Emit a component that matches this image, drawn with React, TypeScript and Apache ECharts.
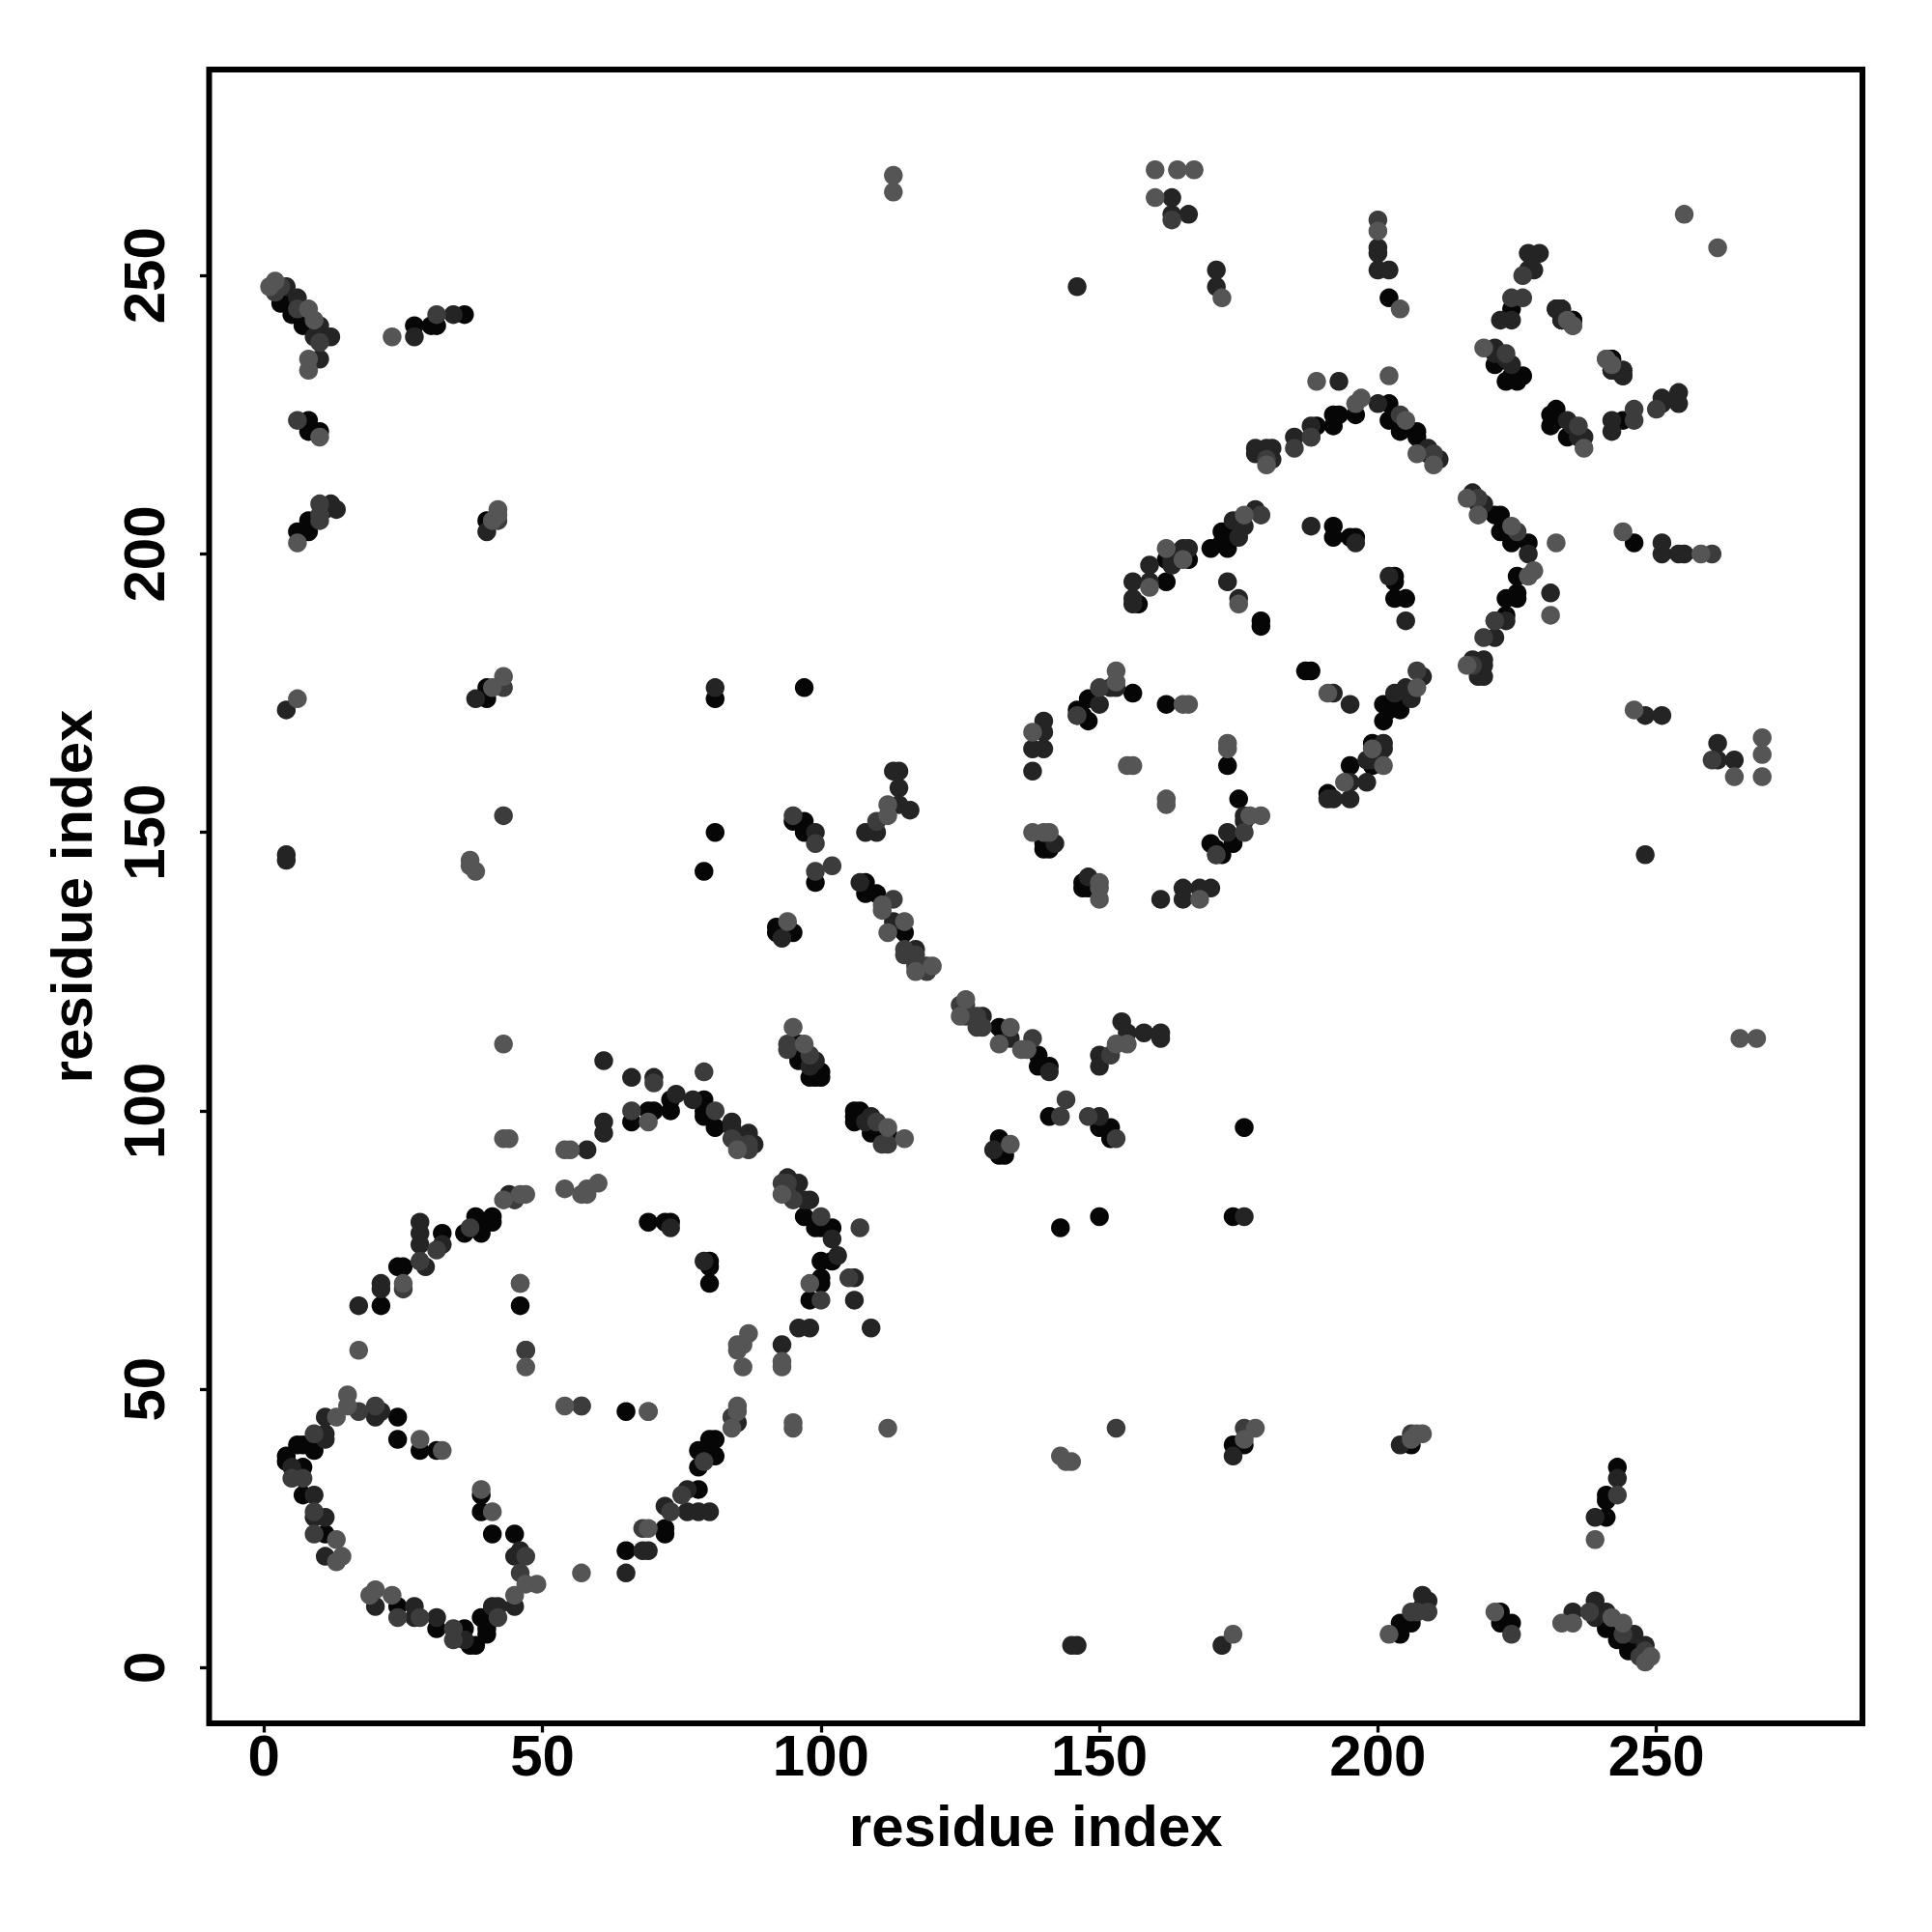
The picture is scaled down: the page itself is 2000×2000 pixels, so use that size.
import React, { useEffect, useRef } from "react";
import * as echarts from "echarts";

// Residue contacts (i < j); the map is symmetric.
const contactsBlack: number[][] = [
  [69,80],[72,80],[73,80],[41,81],[38,81],[36,78],[39,78],[38,80],[41,80],[32,78],[25,72],[24,72],[21,65],[46,65],[24,45],[24,41],[28,39],[31,39],[6,40],[7,40],[9,39],[4,38],[4,37],[7,36],[7,31],[11,24],
  [40,176],[40,174],[81,174],[81,150],[79,143],[69,100],[70,100],[73,100],[73,102],[79,102],[79,100],[79,99],[81,97],[66,98],
  [3,245],[5,245],[3,246],[5,243],[7,241],[27,241],[30,241],[31,241],[36,243],[8,224],[8,222],[10,222],[8,206],[6,204],[8,204],[40,206],
  [97,176],[156,175],[148,174],[146,172],[146,171],[148,170],[147,171],[162,173],[95,152],[97,152],[97,150],[99,141],[140,148],[140,147],[141,147],[108,141],[108,139],[110,139],[115,132],[92,133],[92,132],[95,132],
  [96,112],[96,109],[98,106],[99,106],[100,106],[100,107],
  [172,204],[170,201],[172,202],[173,201],[174,203],[166,199],[162,199],[162,195],[157,191],[179,188],[179,187],
  [202,246],[224,244],[221,234],[223,231],[225,231],[226,232],[224,232],[235,242],[242,235],[242,233],[244,232],
  [196,225],[202,227],[192,225],[193,225],[192,223],[189,223],[202,224],[204,222],[207,222],[207,221],[192,205],[192,203],[196,203],[195,203],
];
const contactsDark: number[][] = [
  [44,85],[28,80],[28,78],[28,76],[32,76],[29,72],[21,69],[21,68],[17,65],[20,45],[21,46],[11,45],[11,42],[11,41],[5,36],[9,31],[9,27],[11,27],[11,20],[73,79],
  [4,172],[38,174],[81,176],[4,146],[4,145],[61,109],[66,106],[70,106],[74,103],[77,102],[61,98],[61,96],[58,93],[84,98],[84,97],[87,96],[88,94],
  [4,248],[6,246],[10,241],[9,239],[11,239],[12,239],[27,239],[34,243],[10,235],[40,204],[11,208],[12,209],[13,208],
  [153,176],[152,176],[150,173],[140,170],[140,168],[138,165],[140,165],[138,161],[114,161],[113,161],[114,158],[114,155],[116,154],[110,150],[108,150],[99,150],[142,148],[107,141],[117,129],[113,134],[93,131],[99,109],[98,108],
  [163,264],[163,261],[166,261],[171,251],[171,248],[146,248],[178,219],[178,218],[180,219],[181,219],[181,217],[185,221],[188,223],[178,208],[174,206],[176,205],[175,203],[166,201],[165,201],[163,199],[163,198],[159,198],[156,195],[159,195],[156,192],[156,191],[173,195],[175,192],
  [200,255],[200,254],[200,251],[202,251],[227,254],[229,254],[227,251],[228,251],[222,242],[224,242],[221,237],[221,236],[223,235],[224,234],[232,244],[233,244],[233,242],[244,233],
  [193,231],[200,227],[188,221],[209,219],[209,218],[210,217],[211,217],[188,205],[196,202],
];
const contactsMid: number[][] = [
  [45,84],[37,79],[31,75],[28,73],[25,68],[47,57],[57,47],[17,46],[20,47],[9,42],[5,34],[7,34],[9,28],[9,24],
  [43,176],[43,153],[79,107],[66,100],[81,100],[70,105],[84,95],[85,94],[87,94],[87,93],
  [3,248],[2,247],[6,244],[6,224],[31,243],[10,238],[10,209],[10,207],[10,206],[42,206],
  [150,176],[146,171],[113,138],[110,152],[95,153],[99,148],[99,143],[102,144],[115,129],[115,128],[117,128],[117,126],[119,126],[119,125],[94,112],[94,111],[98,110],
  [163,260],[179,207],[188,221],[185,219],[180,217],
  [200,260],[226,250],[224,246],[226,246],[223,236],[204,225],[210,218],
];
const contactsGrey: number[][] = [
  [54,86],[57,85],[58,86],[60,87],[58,85],[43,84],[46,85],[47,85],[25,69],[46,69],[17,57],[47,54],[15,49],[15,47],[28,41],[32,39],[13,45],[13,23],[13,19],[14,20],[69,46],
  [6,174],[43,178],[41,176],[37,145],[37,144],[38,143],[43,112],[43,95],[44,95],[54,93],[55,93],[69,98],[85,93],
  [1,248],[2,249],[8,244],[9,242],[8,235],[8,233],[10,221],[23,239],[6,202],[42,208],[42,207],[41,206],
  [153,179],[153,177],[165,173],[166,173],[138,168],[155,162],[156,162],[112,155],[112,153],[138,150],[140,150],[141,150],[111,137],[111,136],[115,134],[112,132],[120,126],[117,125],[94,134],[95,115],[97,112],
  [113,268],[113,265],[160,269],[167,269],[164,269],[160,264],[172,246],[180,216],[176,207],[162,201],[165,199],[159,194],[175,191],
  [255,261],[200,258],[204,244],[219,237],[234,242],[235,241],[241,235],[189,231],[197,228],[196,227],[202,232],[205,224],[207,218],[210,216],
];

const tickValues = [0, 50, 100, 150, 200, 250];
const tickLabels = ["0", "50", "100", "150", "200", "250"];
const axisName = "residue index";

const font = "Liberation Sans";

const withMirror = (pairs: number[][]) =>
  pairs.flatMap(([i, j]) => [
    [i, j],
    [j, i],
  ]);

const axisBase = (min: number, rotate: number, margin: number, nameGap: number) => ({
  type: "value" as const,
  min,
  max: 287,
  name: axisName,
  nameLocation: "middle" as const,
  nameGap,
  nameTextStyle: { fontFamily: font, fontWeight: "bold" as const, fontSize: 60, color: "#000" },
  splitLine: { show: false },
  axisLine: { show: false, onZero: false },
  axisTick: {
    show: true,
    length: 9.5,
    customValues: tickValues,
    lineStyle: { color: "#000", width: 3.3 },
  },
  axisLabel: {
    rotate,
    margin,
    customValues: tickValues,
    formatter: (v: number) => tickLabels[tickValues.indexOf(v)] ?? "",
    fontFamily: font,
    fontWeight: "bold" as const,
    fontSize: 60,
    color: "#000",
  },
});

const scatter = (name: string, pairs: number[][], color: string) => ({
  name,
  type: "scatter" as const,
  symbol: "circle",
  symbolSize: 19.5,
  data: withMirror(pairs),
  itemStyle: { color, opacity: 1 },
});

export default function App() {
  const ref = useRef<HTMLDivElement>(null);
  useEffect(() => {
    const chart = echarts.init(ref.current!, null, { renderer: "svg" });
    chart.setOption({
      animation: false,
      backgroundColor: "#fff",
      grid: {
        left: 216.5,
        top: 72,
        width: 1711.5,
        height: 1712,
        show: true,
        borderColor: "#000",
        borderWidth: 6,
        backgroundColor: "transparent",
      },
      xAxis: axisBase(-9.85, 0, 3, 76),
      yAxis: axisBase(-10, 90, 37, 112),
      series: [
        scatter("contacts black", contactsBlack, "#060606"),
        scatter("contacts dark", contactsDark, "#242424"),
        scatter("contacts mid", contactsMid, "#3c3c3c"),
        scatter("contacts grey", contactsGrey, "#555555"),
      ],
    });
    return () => chart.dispose();
  }, []);
  return (
    <div
      ref={ref}
      style={{ position: "absolute", left: 0, top: 0, width: 2000, height: 2000 }}
    />
  );
}
